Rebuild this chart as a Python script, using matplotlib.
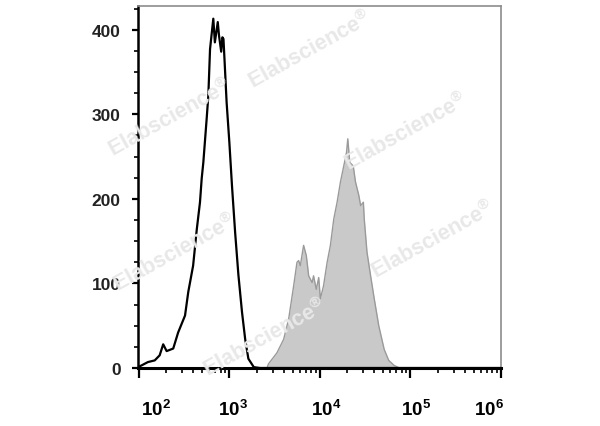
#!/usr/bin/env python3
"""
流式直方图: 阴性对照(黑线) vs 染色样本(灰色填充)
"""
import numpy as np
import matplotlib
matplotlib.use("Agg")
import matplotlib.pyplot as plt
from matplotlib.ticker import LogLocator, MultipleLocator, NullFormatter, FixedFormatter
import matplotlib.transforms as mtransforms

plt.rcParams['font.family'] = ['Liberation Sans', 'DejaVu Sans']
plt.rcParams['mathtext.fontset'] = 'custom'
plt.rcParams['mathtext.rm'] = 'Liberation Sans:bold'
plt.rcParams['mathtext.bf'] = 'Liberation Sans:bold'

# 对照组 (荧光强度, 细胞数)
ctrl_fl = [98, 107, 126, 150, 170, 186, 203, 240, 272, 324, 352, 398, 437, 474,
           495, 516, 562, 586, 612, 665, 692, 745, 769, 813, 838, 861, 883,
           933, 1000, 1070, 1159, 1259, 1380, 1496, 1622, 1862, 2188, 1000000]
ctrl_count = [1, 3, 7, 9, 15, 28, 20, 23, 42, 62, 90, 121, 164, 196,
              224, 243, 295, 322, 377, 413, 385, 409, 393, 374, 391, 389, 366,
              314, 267, 215, 160, 110, 66, 34, 11, 1, 0, 0]

# 染色样本
stain_fl = [98, 2600, 2710, 3357, 3981, 4519, 5129, 5585, 5821, 6081, 6607, 7079,
            7516, 8204, 8511, 9120, 9705, 10116, 10965, 12023, 13062, 14223,
            15488, 16866, 18365, 19679, 20324, 21380, 23335, 24717, 26915,
            28184, 30200, 30903, 33113, 36308, 39811, 44668, 51286, 57544,
            66069, 75858]
stain_count = [0, 0, 5, 18, 34, 58, 97, 125, 127, 121, 145, 133,
               109, 101, 109, 93, 107, 82, 97, 125, 145, 176,
               196, 220, 239, 255, 271, 243, 239, 220, 204,
               192, 196, 176, 137, 109, 82, 50, 22, 9,
               3, 0]

x_ticks = [1e2, 1e3, 1e4, 1e5, 1e6]
x_labels = ['$10^{2}$', '$10^{3}$', '$10^{4}$', '$10^{5}$', '$10^{6}$']
y_ticks = [0, 100, 200, 300, 400]

fig = plt.figure(figsize=(6, 4.27), dpi=100)
ax = fig.add_axes([138 / 600, 1 - 369 / 427, 363 / 600, 362 / 427])

ax.fill_between(stain_fl, stain_count, 0, color='#c9c9c9', lw=0, zorder=1)
ax.plot(stain_fl, stain_count, color='#9a9a9a', lw=1.0, zorder=2)
ax.plot(ctrl_fl, ctrl_count, color='black', lw=1.6, zorder=3)

ax.set_xscale('log')
ax.set_xlim(98, 1e6)
ax.set_ylim(0, 428)

ax.set_xticks(x_ticks)
ax.xaxis.set_major_formatter(FixedFormatter(x_labels))
ax.xaxis.set_minor_locator(LogLocator(base=10, subs=np.arange(2, 10)))
ax.xaxis.set_minor_formatter(NullFormatter())
ax.set_yticks(y_ticks)
ax.yaxis.set_minor_locator(MultipleLocator(25))

ax.tick_params(axis='x', which='major', direction='out', length=7, width=1.6,
               pad=15, labelsize=13.5, colors='black')
ax.tick_params(axis='x', which='minor', direction='out', length=3.5, width=1.2)
ax.tick_params(axis='y', which='major', direction='out', length=4.5, width=1.6,
               pad=8, labelsize=12.5)
ax.tick_params(axis='y', which='minor', direction='out', length=3, width=1.2)
for lab in ax.get_yticklabels():
    lab.set_fontweight('bold')
    lab.set_color('#222222')

# x 标签偏移(原图里首尾标签往内缩)
shifts = [17, 4, 6, 6, -12]
for lab, dx in zip(ax.get_xticklabels(), shifts):
    off = mtransforms.ScaledTranslation(dx / 100, 0, fig.dpi_scale_trans)
    lab.set_transform(lab.get_transform() + off)

ax.spines['left'].set_linewidth(1.8)
ax.spines['bottom'].set_linewidth(2.2)
ax.spines['top'].set_color('#8c8c8c')
ax.spines['right'].set_color('#8c8c8c')
ax.spines['top'].set_linewidth(1.2)
ax.spines['right'].set_linewidth(1.2)

# 水印
for px, py in [(310, 50), (170, 118), (406, 132), (175, 253), (433, 240), (265, 338)]:
    fig.text(px / 600, 1 - py / 427, 'Elabscience$^{\u00ae}$', fontsize=15.5, rotation=29,
             color='#e8e8e8', fontweight='bold', ha='center', va='center', zorder=10,
             family=['Liberation Sans', 'DejaVu Sans'])

fig.savefig('out.png', dpi=100)
